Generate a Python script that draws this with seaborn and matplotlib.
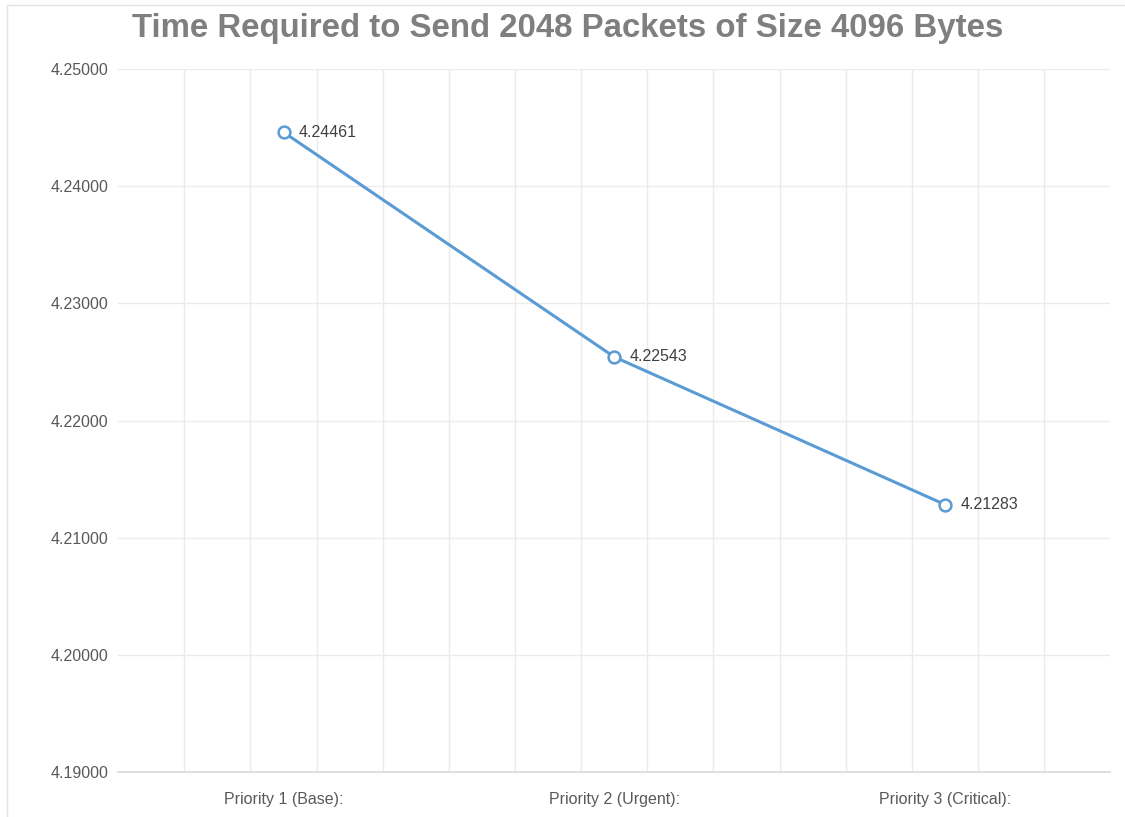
import numpy as np
import pandas as pd
import seaborn as sns
import matplotlib.pyplot as plt
from matplotlib.patches import Rectangle

# data
categories = ["Priority 1 (Base):", "Priority 2 (Urgent):", "Priority 3 (Critical):"]
times = [4.24461, 4.22543, 4.21283]
y_ticks = [4.19, 4.20, 4.21, 4.22, 4.23, 4.24, 4.25]

df = pd.DataFrame({"priority": categories, "time": times})

sns.set_style("white")
plt.rcParams["font.family"] = ["Liberation Sans", "DejaVu Sans"]

fig = plt.figure(figsize=(11.25, 8.17), dpi=100)
ax = fig.add_axes([0.105, 0.055, 0.882, 0.8605])

line_color = "#5b9bd5"
sns.lineplot(data=df, x="priority", y="time", ax=ax, color=line_color,
             linewidth=2.2, marker="o", markersize=8.5, markerfacecolor="white",
             markeredgecolor=line_color, markeredgewidth=1.8, sort=False)

# data labels
for i, v in enumerate(times):
    ax.annotate(f"{v:.5f}", (i, v), xytext=(11, 0), textcoords="offset points",
                va="center", ha="left", fontsize=11.5, color="#404040")

ax.set_xlim(-0.5, 2.5)
ax.set_ylim(4.19, 4.25)
ax.set_yticks(y_ticks)
ax.set_yticklabels([f"{t:.5f}" for t in y_ticks])

# excel-style grid: horizontal at major ticks, vertical at fifths of each category
for t in y_ticks[1:]:
    ax.axhline(t, color="#ebebeb", linewidth=1, zorder=0)
for xg in np.arange(-0.3, 2.45, 0.2):
    ax.axvline(xg, color="#ebebeb", linewidth=1, zorder=0)

for s in ["left", "right", "top"]:
    ax.spines[s].set_visible(False)
ax.spines["bottom"].set_color("#d9d9d9")
ax.spines["bottom"].set_linewidth(1.2)

ax.tick_params(axis="both", length=0, labelsize=11.5, labelcolor="#595959")
ax.tick_params(axis="x", pad=14)
ax.tick_params(axis="y", pad=7)
ax.set_xlabel("")
ax.set_ylabel("")

fig.suptitle("Time Required to Send 2048 Packets of Size 4096 Bytes",
             x=0.505, y=0.955, fontsize=23.8, fontweight="bold", color="#7f7f7f",
             va="baseline")

# faint chart-area border
fig.patches.append(Rectangle((0.006, -0.01), 1.1, 1.004, transform=fig.transFigure,
                             fill=False, edgecolor="#e3e3e3", linewidth=1))

plt.savefig("out.png", dpi=100)
